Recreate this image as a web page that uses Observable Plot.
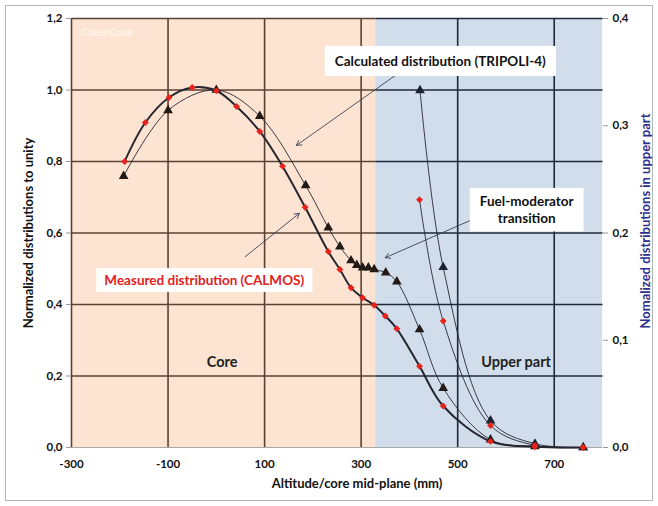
<!DOCTYPE html>
<html>
<head>
<meta charset="utf-8">
<script src="https://cdn.jsdelivr.net/npm/d3@7"></script>
<script src="https://cdn.jsdelivr.net/npm/@observablehq/plot@0.6"></script>
<style>
  html, body { margin: 0; padding: 0; background: #fff; }
  #wrap { position: relative; width: 658px; height: 506px; }
  #border { position: absolute; left: 5px; top: 5px; width: 648px; height: 496px; border: 1px solid #b5b5b5; box-sizing: border-box; pointer-events: none; }
  svg { position: absolute; left: 0; top: 0; }
</style>
</head>
<body>
<div id="wrap"><div id="border"></div></div>
<script>
// ---- data ----
const regionNames = ["Core", "Upper part"];
const regionStart = [-300, 330];
const regionEnd = [330, 800];

const xTicks = [-300, -100, 100, 300, 500, 700];
const yTicks = [0, 0.2, 0.4, 0.6, 0.8, 1.0, 1.2];
const yRightTicks = [0, 0.1, 0.2, 0.3, 0.4];

// Measured distribution (CALMOS), left axis
const measX = [-190, -147, -98, -50, 0, 42, 90, 137, 184, 232, 256, 279, 303, 327, 350, 374, 421, 470, 568, 660, 760];
const measY = [0.800, 0.909, 0.979, 1.007, 0.998, 0.954, 0.884, 0.787, 0.672, 0.548, 0.498, 0.447, 0.419, 0.398, 0.368, 0.332, 0.227, 0.116, 0.017, 0.002, 0.0];
// Calculated distribution (TRIPOLI-4), left axis
const calcX = [-192, -100, 0, 90, 185, 232, 256, 279, 291, 303, 315, 327, 351, 374, 421, 470, 568, 660, 760];
const calcY = [0.759, 0.943, 1.000, 0.927, 0.733, 0.615, 0.562, 0.523, 0.510, 0.503, 0.503, 0.498, 0.489, 0.464, 0.330, 0.166, 0.022, 0.003, 0.0];
// Upper part distributions, right axis
const upCalcX = [422, 470, 568, 660, 760];
const upCalcY = [0.333, 0.168, 0.025, 0.0035, 0.0];
const upMeasX = [421, 470, 568, 660, 760];
const upMeasY = [0.231, 0.118, 0.0205, 0.002, 0.0];

// annotations
const annTexts = ["Calculated distribution (TRIPOLI-4)", "Fuel-moderator\ntransition", "Measured distribution (CALMOS)"];
const annX = [464, 643, -25];
const annY = [1.083, 0.667, 0.470];
const arrowFromX = [391, 526, 60];
const arrowFromY = [1.060, 0.635, 0.534];
const arrowToX = [166, 350, 172];
const arrowToY = [0.845, 0.531, 0.655];
const regionLabelX = [12, 621];
const regionLabelY = [0.238, 0.238];

// ---- derived tables ----
const ratio = 1.2 / 0.4; // right axis to left axis
const regions = regionNames.map((name, i) => ({name, start: regionStart[i], end: regionEnd[i], fill: i === 0 ? "#fde4d2" : "#d2ddec", grid: i === 0 ? "#5a4232" : "#1d2838"}));
const regionOf = x => regions.find(r => x >= r.start && x < r.end) || regions[1];
const zip = (xs, ys) => xs.map((x, i) => ({x, y: ys[i]}));
const meas = zip(measX, measY);
const calc = zip(calcX, calcY);
const upCalc = zip(upCalcX, upCalcY);
const upMeas = zip(upMeasX, upMeasY);
const hGrid = yTicks.filter(v => v > 0).flatMap(y => regions.map(r => ({y, x1: r.start, x2: r.end, color: r.grid})));
const vGrid = xTicks.map(x => ({x, color: regionOf(x).grid}));
const anns = annTexts.map((t, i) => ({t, x: annX[i], y: annY[i], x1: arrowFromX[i], y1: arrowFromY[i], x2: arrowToX[i], y2: arrowToY[i], color: i === 2 ? "#e3211c" : "#111"}));
const regionLabels = regionNames.map((n, i) => ({n, x: regionLabelX[i], y: regionLabelY[i]}));

const fmt = d => d3.format(".1f")(d).replace(".", ",");
const lineColor = "#262630";

const chart = Plot.plot({
  width: 658,
  height: 506,
  marginLeft: 71,
  marginRight: 56,
  marginTop: 18,
  marginBottom: 59,
  x: {domain: [-300, 800]},
  y: {domain: [0, 1.2]},
  style: {fontFamily: "Lato, 'Open Sans', sans-serif", background: "transparent", overflow: "visible"},
  marks: [
    Plot.rect(regions, {x1: "start", x2: "end", y1: 0, y2: 1.2, fill: "fill"}),
    Plot.text(["CoeurCoue"], {x: -281, y: 1.161, textAnchor: "start", fill: "#fff", fillOpacity: 0.6, fontSize: 10.5, fontWeight: "bold"}),
    Plot.link(hGrid, {x1: "x1", x2: "x2", y1: "y", y2: "y", stroke: "color", strokeWidth: 1.6}),
    Plot.ruleX(vGrid, {x: "x", y1: 0, y2: 1.2, stroke: "color", strokeWidth: 1.6}),
    Plot.ruleY([0], {stroke: "#a8a8a8", strokeWidth: 1}),
    Plot.axisY({anchor: "left", ticks: yTicks, tickFormat: fmt, tickSize: 5, tickPadding: 4, stroke: "#999", fill: "#111", fontWeight: "bold", fontSize: 11.5, label: null}),
    Plot.axisY({anchor: "right", ticks: yRightTicks.map(v => v * ratio), tickFormat: d => fmt(d / ratio), tickSize: 5, tickPadding: 5, stroke: "#999", fill: "#111", fontWeight: "bold", fontSize: 11.5, label: null}),
    Plot.axisX({anchor: "bottom", ticks: xTicks, tickFormat: d => String(d), tickSize: 0, tickPadding: 12, fill: "#111", fontWeight: "bold", fontSize: 11.5, label: null}),
    Plot.text(["Normalized distributions to unity"], {frameAnchor: "left", textAnchor: "middle", rotate: -90, dx: -43, fontSize: 13, fontWeight: "bold", fill: "#111"}),
    Plot.text(["Nomalized distributions in upper part"], {frameAnchor: "right", textAnchor: "middle", rotate: -90, dx: 43, dy: -12, fontSize: 13, fontWeight: "bold", fill: "#2b2f8f"}),
    Plot.text(["Altitude/core mid-plane (mm)"], {frameAnchor: "bottom", dx: 20, dy: 40, fontSize: 13, fontWeight: "bold", fill: "#111"}),
    Plot.text(regionLabels, {x: "x", y: "y", text: "n", fontSize: 14.5, fontWeight: "bold", fill: "#222"}),
    // curves
    Plot.line(calc, {x: "x", y: "y", curve: "catmull-rom", stroke: lineColor, strokeWidth: 0.9}),
    Plot.line(meas, {x: "x", y: "y", curve: "catmull-rom", stroke: lineColor, strokeWidth: 2}),
    Plot.line(upCalc, {x: "x", y: d => d.y * ratio, curve: "catmull-rom", stroke: lineColor, strokeWidth: 0.9}),
    Plot.line(upMeas, {x: "x", y: d => d.y * ratio, curve: "catmull-rom", stroke: lineColor, strokeWidth: 0.9}),
    Plot.dot(calc, {x: "x", y: "y", symbol: "triangle", r: 3.6, fill: "#221a16"}),
    Plot.dot(upCalc, {x: "x", y: d => d.y * ratio, symbol: "triangle", r: 3.6, fill: "#1c2030"}),
    Plot.dot(meas, {x: "x", y: "y", symbol: "diamond2", r: 3.1, fill: "#e8231b"}),
    Plot.dot(upMeas, {x: "x", y: d => d.y * ratio, symbol: "diamond2", r: 3.1, fill: "#e8231b"}),
    // annotations
    Plot.arrow(anns, {x1: "x1", y1: "y1", x2: "x2", y2: "y2", stroke: "#3a3f55", strokeWidth: 0.9, headLength: 9, bend: false}),
    Plot.text(anns, {x: "x", y: "y", text: "t", fill: "color", fontSize: 13.5, fontWeight: "bold", lineHeight: 1.3, className: "annot"})
  ]
});

document.getElementById("wrap").appendChild(chart);

// white boxes behind annotation texts
const pads = [[10, 7], [10, 5], [8, 4]];
document.querySelectorAll(".annot text").forEach((t, i) => {
  const b = t.getBBox();
  const [px, py] = pads[i] || [8, 5];
  const r = document.createElementNS("http://www.w3.org/2000/svg", "rect");
  r.setAttribute("x", b.x - px);
  r.setAttribute("y", b.y - py);
  r.setAttribute("width", b.width + 2 * px);
  r.setAttribute("height", b.height + 2 * py);
  r.setAttribute("fill", "#fff");
  const tr = t.getAttribute("transform");
  if (tr) r.setAttribute("transform", tr);
  t.parentNode.insertBefore(r, t);
});
</script>
</body>
</html>
